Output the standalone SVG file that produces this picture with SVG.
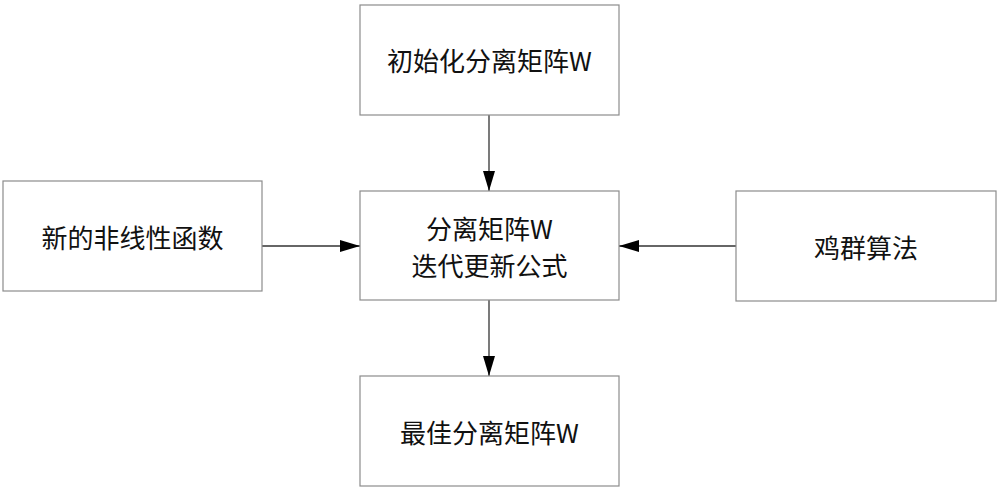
<svg xmlns="http://www.w3.org/2000/svg" width="1000" height="492" viewBox="0 0 1000 492">
<style>
.box{fill:#fff;stroke:#8c8c8c;stroke-width:1.2}
.lbl{font-family:"Noto Sans CJK SC","Noto Sans",sans-serif;font-size:26px;fill:#111;text-anchor:middle;dominant-baseline:central}
.con{stroke:#333;stroke-width:1.3;fill:none;marker-end:url(#ah)}
</style>
<defs>
<marker id="ah" viewBox="0 0 20 12" refX="20" refY="6" markerWidth="20" markerHeight="12" markerUnits="userSpaceOnUse" orient="auto">
<path d="M0,0 L20,6 L0,12 Z" fill="#000"/>
</marker>
</defs>
<rect width="1000" height="492" fill="#fff"/>
<g id="connectors">
<line class="con" x1="489" y1="115" x2="489" y2="191"/>
<line class="con" x1="262" y1="246" x2="360" y2="246"/>
<line class="con" x1="736" y1="246" x2="619" y2="246"/>
<line class="con" x1="489" y1="300" x2="489" y2="376"/>
</g>
<g id="init">
<rect class="box" x="360" y="5" width="259" height="110"/>
<text class="lbl" x="489.5" y="59">初始化分离矩阵W</text>
</g>
<g id="nonlinear">
<rect class="box" x="3" y="181" width="259" height="110"/>
<text class="lbl" x="132.5" y="236">新的非线性函数</text>
</g>
<g id="update">
<rect class="box" x="360" y="191" width="259" height="109"/>
<text class="lbl" x="489.5" y="227">分离矩阵W</text>
<text class="lbl" x="489.5" y="264">迭代更新公式</text>
</g>
<g id="chicken">
<rect class="box" x="736" y="191" width="260" height="110"/>
<text class="lbl" x="866" y="246">鸡群算法</text>
</g>
<g id="best">
<rect class="box" x="360" y="376" width="259" height="110"/>
<text class="lbl" x="489.5" y="431">最佳分离矩阵W</text>
</g>
</svg>
